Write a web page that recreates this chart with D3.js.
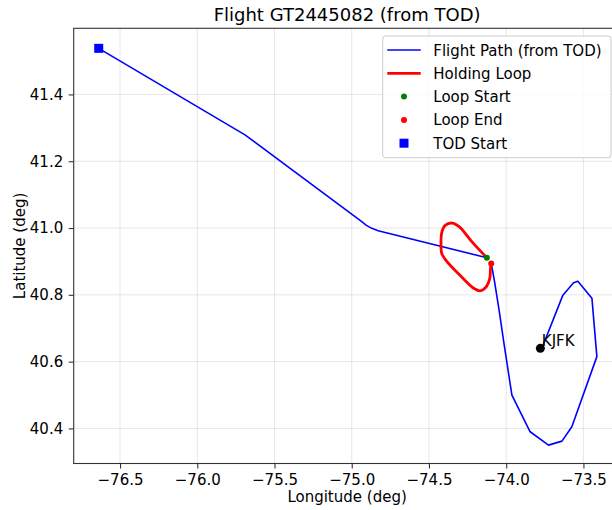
<!DOCTYPE html>
<html>
<head>
<meta charset="utf-8">
<script src="https://cdn.jsdelivr.net/npm/d3@7"></script>
<style>
  html, body { margin: 0; padding: 0; background: #fff; }
  svg { display: block; font-family: "DejaVu Sans", sans-serif; }
</style>
</head>
<body>
<svg id="chart" width="612" height="510"></svg>
<script>
// Flight path from top of descent (lon, lat), the part before the hold
const pathBefore = [
  [-76.638, 41.538], [-75.691, 41.279], [-74.935, 41.019], [-74.905, 41.008],
  [-74.870, 40.999], [-74.829, 40.992], [-74.125, 40.911]
];
// Holding loop (lon, lat)
const holdLoop = [
  [-74.125, 40.911], [-74.220, 40.958], [-74.305, 41.004], [-74.350, 41.015],
  [-74.395, 41.008], [-74.418, 40.985], [-74.422, 40.952], [-74.418, 40.925],
  [-74.390, 40.903], [-74.285, 40.852], [-74.205, 40.818], [-74.169, 40.812],
  [-74.133, 40.822], [-74.106, 40.850], [-74.102, 40.878], [-74.097, 40.894]
];
// Remainder of the approach after the hold (lon, lat)
const pathAfter = [
  [-74.097, 40.894], [-74.077, 40.844], [-74.046, 40.754], [-74.013, 40.650],
  [-73.963, 40.500], [-73.845, 40.390], [-73.726, 40.350], [-73.639, 40.362],
  [-73.575, 40.405], [-73.413, 40.615], [-73.445, 40.790], [-73.536, 40.841],
  [-73.564, 40.836], [-73.633, 40.799], [-73.769, 40.640]
];
const airport = { name: "KJFK", lon: -73.7789, lat: 40.6398 };
const xTicks = [-76.5, -76.0, -75.5, -75.0, -74.5, -74.0, -73.5];
const yTicks = [40.4, 40.6, 40.8, 41.0, 41.2, 41.4];
const legendLabels = ["Flight Path (from TOD)", "Holding Loop", "Loop Start", "Loop End", "TOD Start"];

const svg = d3.select("#chart");
const plotL = 73.7, plotR = 620.5, plotT = 28.3, plotB = 463.5;

const x = d3.scaleLinear().domain([-76.80, -73.26]).range([plotL, plotR]);
const y = d3.scaleLinear().domain([40.295, 41.598]).range([plotB, plotT]);
const fmt = d3.format(".1f");

// grid
const grid = svg.append("g");
grid.selectAll("line.gx").data(xTicks).join("line")
  .attr("x1", d => x(d)).attr("x2", d => x(d)).attr("y1", plotT).attr("y2", plotB)
  .attr("stroke", "#b0b0b0").attr("stroke-opacity", 0.3).attr("stroke-width", 1);
grid.selectAll("line.gy").data(yTicks).join("line")
  .attr("x1", plotL).attr("x2", plotR).attr("y1", d => y(d)).attr("y2", d => y(d))
  .attr("stroke", "#b0b0b0").attr("stroke-opacity", 0.3).attr("stroke-width", 1);

// data
const line = d3.line().x(d => x(d[0])).y(d => y(d[1]));
const smooth = d3.line().x(d => x(d[0])).y(d => y(d[1])).curve(d3.curveCatmullRom.alpha(0.5));
[pathBefore, pathAfter].forEach(seg => {
  svg.append("path").attr("d", line(seg))
    .attr("fill", "none").attr("stroke", "#0000ff").attr("stroke-width", 1.6)
    .attr("stroke-linejoin", "round");
});
svg.append("path").attr("d", smooth(holdLoop))
  .attr("fill", "none").attr("stroke", "#ff0000").attr("stroke-width", 2.8)
  .attr("stroke-linejoin", "round").attr("stroke-linecap", "round");

const loopStart = holdLoop[0], loopEnd = holdLoop[holdLoop.length - 1], tod = pathBefore[0];
svg.append("circle").attr("cx", x(loopStart[0])).attr("cy", y(loopStart[1])).attr("r", 3).attr("fill", "#008000");
svg.append("circle").attr("cx", x(loopEnd[0])).attr("cy", y(loopEnd[1])).attr("r", 3).attr("fill", "#ff0000");
svg.append("rect").attr("x", x(tod[0]) - 4.5).attr("y", y(tod[1]) - 4.5)
  .attr("width", 9).attr("height", 9).attr("fill", "#0000ff");

// airport
svg.append("circle").attr("cx", x(airport.lon)).attr("cy", y(airport.lat)).attr("r", 4.5).attr("fill", "#000");
svg.append("text").attr("x", x(airport.lon) + 1.5).attr("y", y(airport.lat) - 2)
  .attr("font-size", 15).attr("fill", "#000").text(airport.name);

// axes
const xAxis = svg.append("g").attr("transform", `translate(0,${plotB})`)
  .call(d3.axisBottom(x).tickValues(xTicks).tickFormat(fmt).tickSize(5).tickPadding(5.5));
const yAxis = svg.append("g").attr("transform", `translate(${plotL},0)`)
  .call(d3.axisLeft(y).tickValues(yTicks).tickFormat(fmt).tickSize(5).tickPadding(5.5));
[xAxis, yAxis].forEach(g => {
  g.select(".domain").remove();
  g.selectAll("line").attr("stroke", "#333").attr("stroke-width", 1.1);
  g.selectAll("text").attr("font-size", 15).attr("fill", "#000")
    .attr("font-family", "DejaVu Sans, sans-serif");
});
// frame
svg.append("rect").attr("x", plotL).attr("y", plotT).attr("width", plotR - plotL).attr("height", plotB - plotT)
  .attr("fill", "none").attr("stroke", "#333").attr("stroke-width", 1.1);

// labels
svg.append("text").attr("x", (plotL + plotR) / 2).attr("y", 21).attr("text-anchor", "middle")
  .attr("font-size", 18).text("Flight GT2445082 (from TOD)");
svg.append("text").attr("x", (plotL + plotR) / 2).attr("y", 502).attr("text-anchor", "middle")
  .attr("font-size", 15).text("Longitude (deg)");
svg.append("text").attr("transform", `translate(25,${(plotT + plotB) / 2}) rotate(-90)`)
  .attr("text-anchor", "middle").attr("font-size", 15).text("Latitude (deg)");

// legend
const lg = svg.append("g");
const lgLeft = 382.7, lgTop = 36, lgRight = 611, lgBottom = 157.7;
lg.append("rect").attr("x", lgLeft).attr("y", lgTop).attr("width", lgRight - lgLeft)
  .attr("height", lgBottom - lgTop).attr("rx", 3).attr("fill", "#fff").attr("fill-opacity", 0.8)
  .attr("stroke", "#cccccc").attr("stroke-width", 1);
const rowY = i => 50 + i * 23.3;
const hx0 = 387.3, hx1 = 420.7, hxc = (hx0 + hx1) / 2;
lg.append("line").attr("x1", hx0).attr("x2", hx1).attr("y1", rowY(0)).attr("y2", rowY(0))
  .attr("stroke", "#0000ff").attr("stroke-width", 1.6);
lg.append("line").attr("x1", hx0).attr("x2", hx1).attr("y1", rowY(1)).attr("y2", rowY(1))
  .attr("stroke", "#ff0000").attr("stroke-width", 2.8);
lg.append("circle").attr("cx", hxc).attr("cy", rowY(2)).attr("r", 3).attr("fill", "#008000");
lg.append("circle").attr("cx", hxc).attr("cy", rowY(3)).attr("r", 3).attr("fill", "#ff0000");
lg.append("rect").attr("x", hxc - 4.5).attr("y", rowY(4) - 4.5).attr("width", 9).attr("height", 9).attr("fill", "#0000ff");
lg.selectAll("text").data(legendLabels).join("text")
  .attr("x", 433.3).attr("y", (d, i) => rowY(i) + 5.5).attr("font-size", 15).text(d => d);
</script>
</body>
</html>
